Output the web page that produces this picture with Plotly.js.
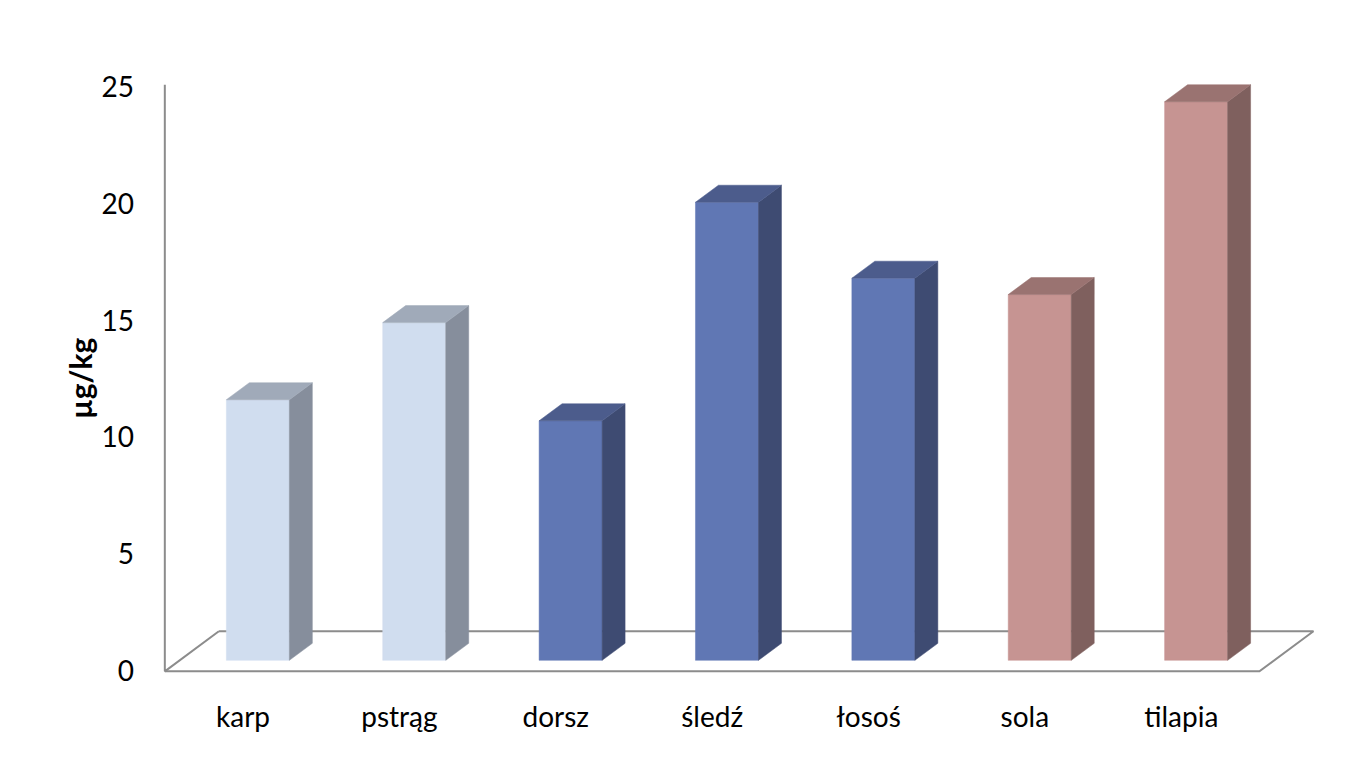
<!DOCTYPE html>
<html>
<head>
<meta charset="utf-8">
<script src="https://cdn.plot.ly/plotly-3.0.1.min.js"></script>
<style>html,body{margin:0;padding:0;background:#fff;}#chart{width:1366px;height:759px;}</style>
</head>
<body>
<div id="chart"></div>
<script>
// ---- data ----
const categories = ["karp", "pstrąg", "dorsz", "śledź", "łosoś", "sola", "tilapia"];
const values = [11.15, 14.45, 10.25, 19.6, 16.35, 15.65, 23.9];
const yTicks = [0, 5, 10, 15, 20, 25];
const yAxisTitle = "µg/kg";

// ---- styles ----
const frontColors = ["#D0DDEF", "#D0DDEF", "#6077B4", "#6077B4", "#6077B4", "#C69492", "#C69492"];
const sideColors  = ["#868E9C", "#868E9C", "#3E4B72", "#3E4B72", "#3E4B72", "#7F605E", "#7F605E"];
const topColors   = ["#A0AAB9", "#A0AAB9", "#4C5C8C", "#4C5C8C", "#4C5C8C", "#9A7371", "#9A7371"];

// oblique depth (in axis units) of the floor
const depthX = 0.3455, depthY = 1.712;
const f1 = 0.275, f2 = 0.70;       // bar front/back depth fraction
const barW = 0.403;
const font = "Lato, 'Open Sans', sans-serif";

const traces = [];
// floor
const x0 = -0.5, x1 = categories.length - 0.5;
traces.push({
  type: "scatter", mode: "lines", hoverinfo: "skip",
  x: [x0, x1, x1 + depthX, x0 + depthX],
  y: [0, 0, depthY, depthY],
  line: {color: "#8C8C8C", width: 2}
});
traces.push({
  type: "scatter", mode: "lines", hoverinfo: "skip",
  x: [x0 + depthX, x0, x0, x0],
  y: [depthY, 0, 0, yTicks[yTicks.length - 1] + 0.1],
  line: {color: "#8C8C8C", width: 2}
});

const ddx = (f2 - f1) * depthX, ddy = (f2 - f1) * depthY;
categories.forEach((c, i) => {
  const v = values[i];
  const cx = i + f1 * depthX;
  const xl = cx - barW / 2, xr = cx + barW / 2;
  const b = f1 * depthY, t = b + v;
  const poly = (xs, ys, col) => traces.push({
    type: "scatter", mode: "lines", fill: "toself", hoverinfo: "skip",
    x: xs, y: ys, fillcolor: col, line: {width: 0.5, color: col}
  });
  // front
  poly([xl, xr, xr, xl, xl], [b, b, t, t, b], frontColors[i]);
  // side
  poly([xr, xr + ddx, xr + ddx, xr, xr], [b, b + ddy, t + ddy, t, b], sideColors[i]);
  // top
  poly([xl, xr, xr + ddx, xl + ddx, xl], [t, t, t + ddy, t + ddy, t], topColors[i]);
});

const layout = {
  width: 1366, height: 759,
  margin: {l: 157, r: 44, t: 48, b: 83},
  paper_bgcolor: "#fff", plot_bgcolor: "#fff",
  showlegend: false,
  font: {family: font, color: "#000", size: 28},
  xaxis: {
    range: [-0.55, 6.9], showgrid: false, zeroline: false, showline: false,
    tickmode: "array", tickvals: categories.map((c, i) => i), ticktext: categories,
    ticks: "", ticklabelstandoff: 22, tickfont: {family: font, size: 28, color: "#000"}
  },
  yaxis: {
    range: [-0.2, 26.67], showgrid: false, zeroline: false, showline: false,
    tickmode: "array", tickvals: yTicks, ticks: "",
    ticklabelstandoff: 22, tickfont: {family: font, size: 28, color: "#000"}
  },
  annotations: [{
    text: "<b>" + yAxisTitle + "</b>", textangle: -90,
    xref: "paper", yref: "paper", x: -0.066, y: 0.4745,
    xanchor: "center", yanchor: "middle", showarrow: false,
    font: {family: font, size: 30, color: "#000"}
  }]
};

Plotly.newPlot("chart", traces, layout, {displayModeBar: false, staticPlot: true});
</script>
</body>
</html>
